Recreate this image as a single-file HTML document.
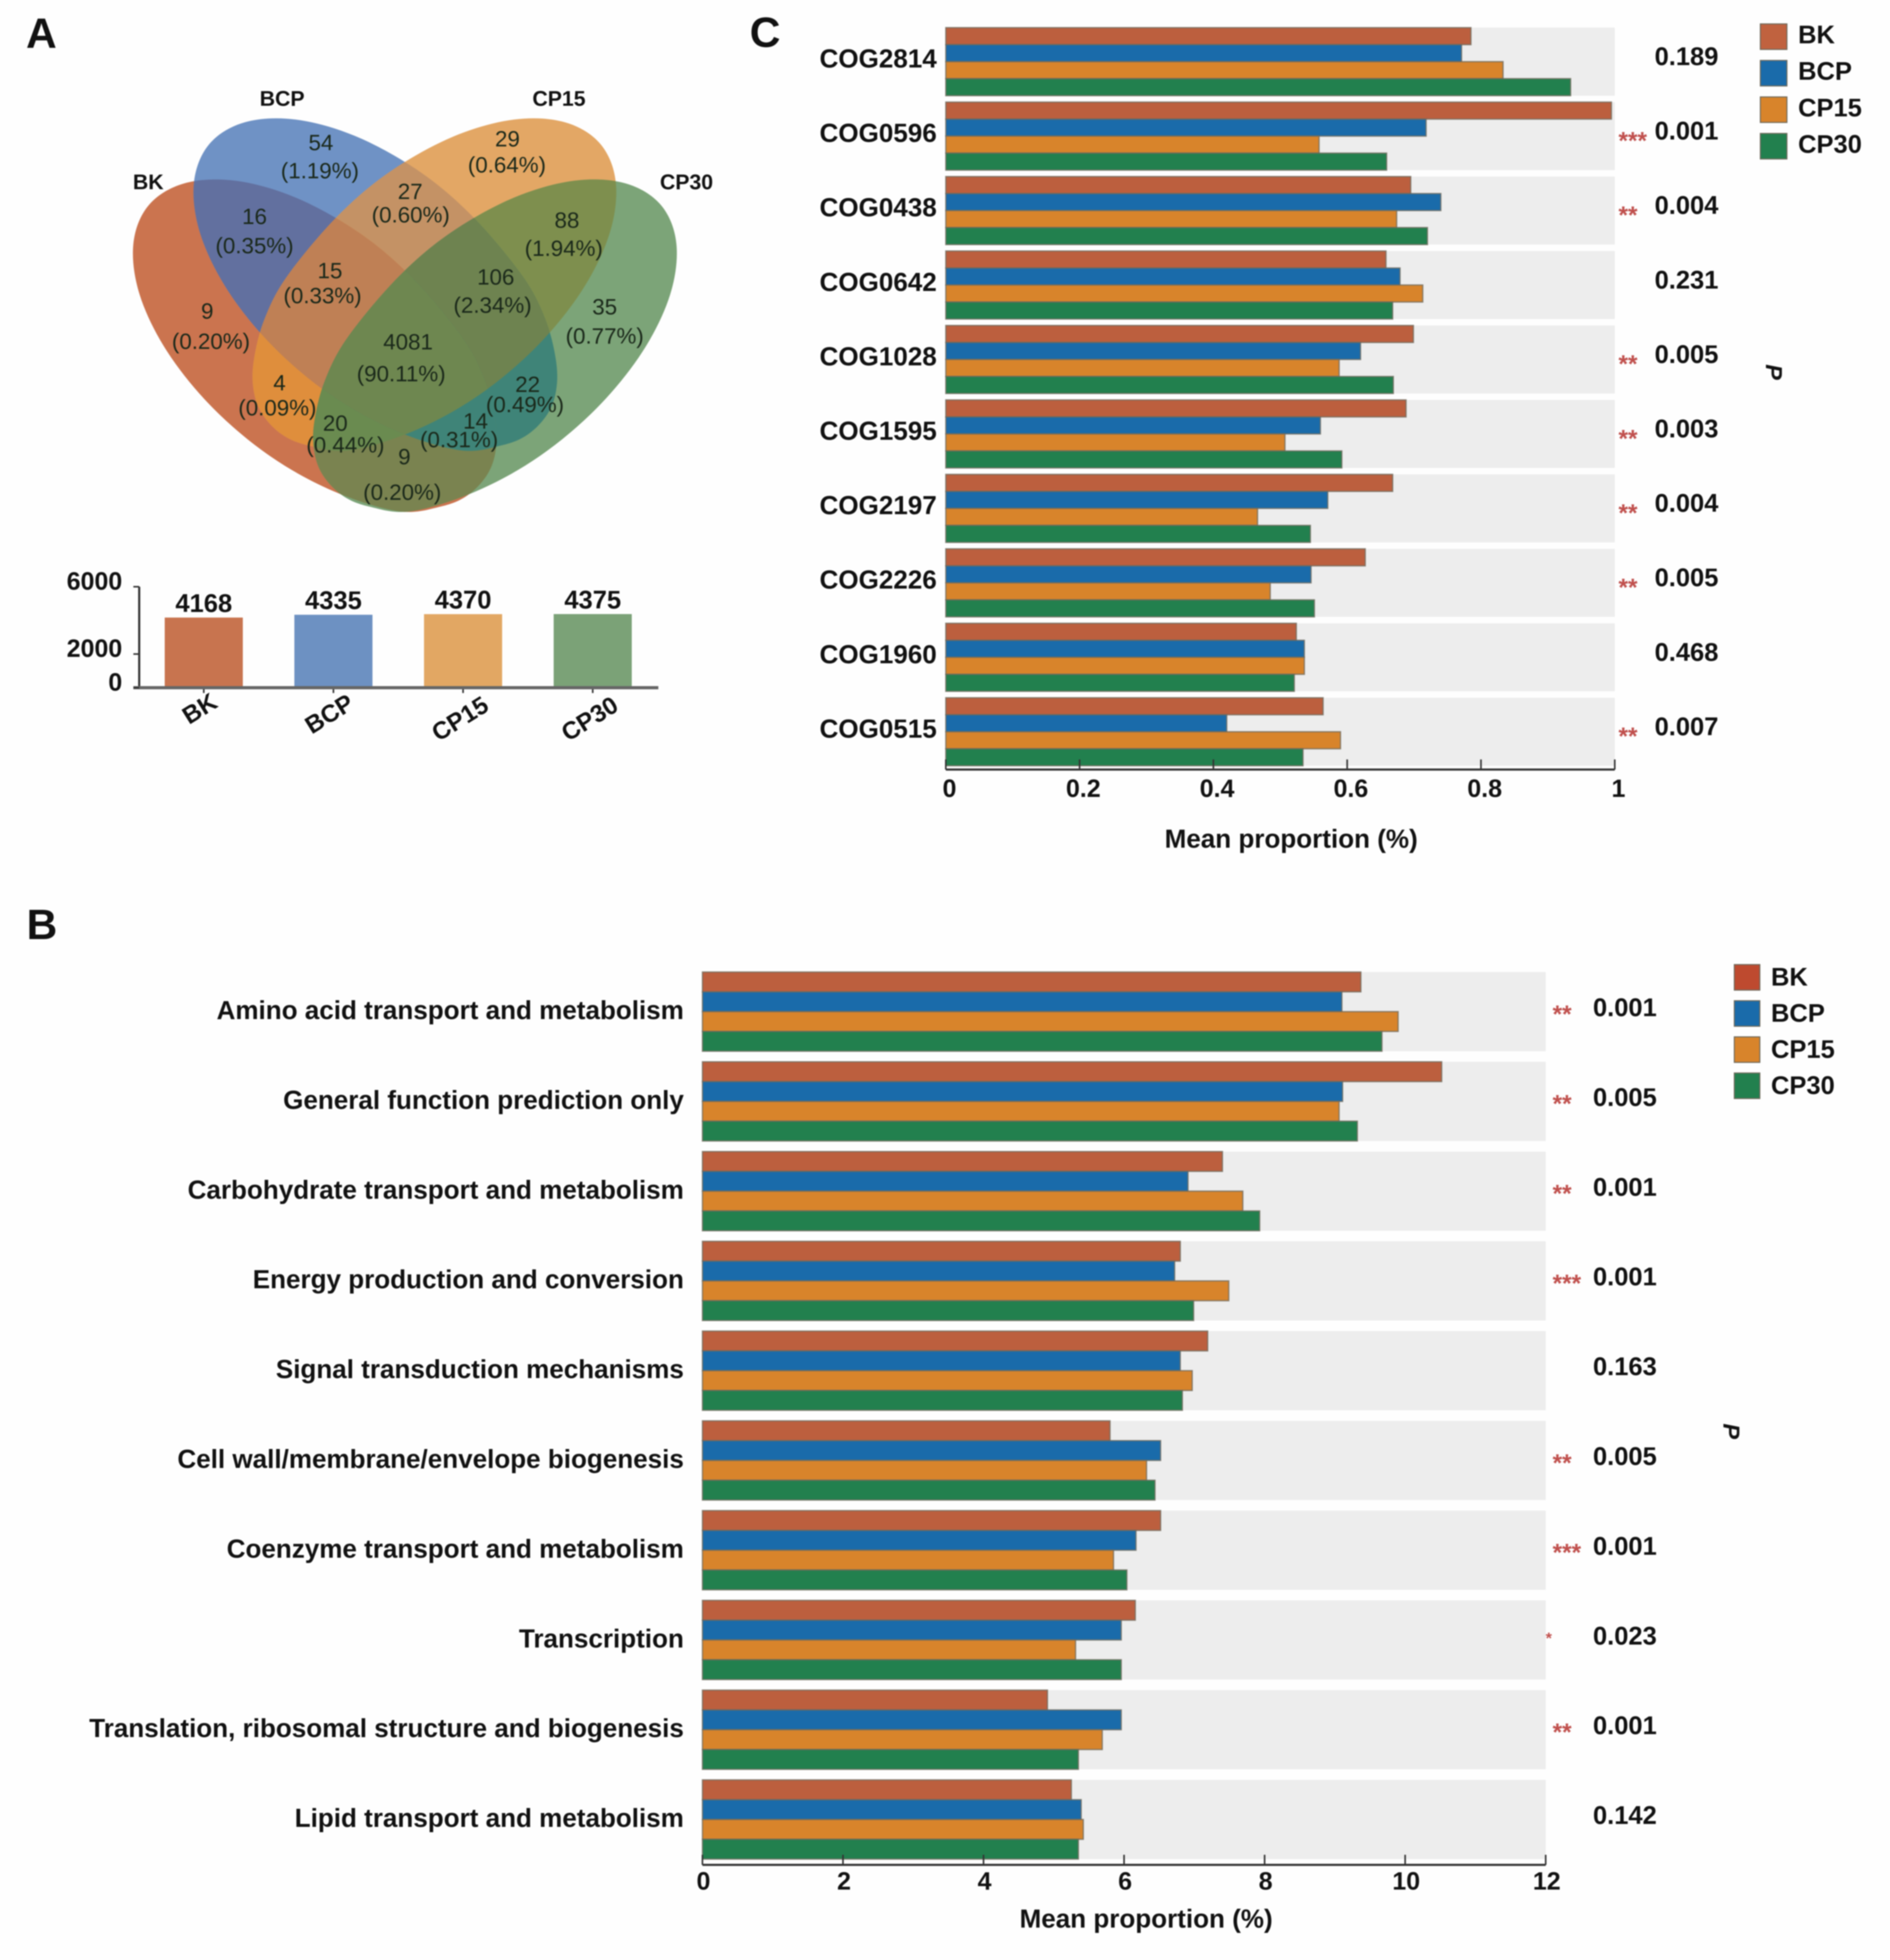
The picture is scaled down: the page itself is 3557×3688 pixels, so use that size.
<!DOCTYPE html>
<html lang="en">
<head>
<meta charset="utf-8">
<title>Panels A, B and C: Venn diagram and COG bar charts</title>
<style>
html,body{margin:0;padding:0;background:#fefefe;}
#figure{display:block;width:3557px;height:3688px;font-family:"Liberation Sans",Arial,sans-serif;filter:blur(1px);}
.vn{font-size:42px;fill:#1a281a;text-anchor:middle;dominant-baseline:central;}
.vh{font-size:40px;font-weight:bold;fill:#111;text-anchor:middle;dominant-baseline:central;}
.pl{font-size:80px;font-weight:bold;fill:#111;}
</style>
</head>
<body>
<svg id="figure" xmlns="http://www.w3.org/2000/svg" width="3557" height="3688" viewBox="0 0 3557 3688">
<defs>
<clipPath id="cBK"><path class="petal"/></clipPath>
<clipPath id="cBCP"><path class="petal" transform="translate(114,-115)"/></clipPath>
<clipPath id="cCP15"><path class="petal" transform="translate(1524,0) scale(-1,1) translate(114,-115)"/></clipPath>
<clipPath id="cCP30"><path class="petal" transform="translate(1524,0) scale(-1,1)"/></clipPath>
</defs>
<rect x="0" y="0" width="3557" height="3688" fill="#fefefe"/>
<text class="pl" x="49" y="90">A</text>
<text class="pl" x="50" y="1767">B</text>
<text class="pl" x="1411" y="88">C</text>

<g>
<g clip-path="url(#cBK)"><rect x="200" y="180" width="1150" height="820" fill="#cb744f"/></g>
<g clip-path="url(#cBCP)"><rect x="200" y="180" width="1150" height="820" fill="#6f92c5"/></g>
<g clip-path="url(#cCP15)"><rect x="200" y="180" width="1150" height="820" fill="#e3a765"/></g>
<g clip-path="url(#cCP30)"><rect x="200" y="180" width="1150" height="820" fill="#7ca478"/></g>
<g clip-path="url(#cBK)"><g clip-path="url(#cBCP)"><rect x="200" y="180" width="1150" height="820" fill="#62709f"/></g></g>
<g clip-path="url(#cBCP)"><g clip-path="url(#cCP15)"><rect x="200" y="180" width="1150" height="820" fill="#c49265"/></g></g>
<g clip-path="url(#cBK)"><g clip-path="url(#cCP15)"><rect x="200" y="180" width="1150" height="820" fill="#df8e3c"/></g></g>
<g clip-path="url(#cCP15)"><g clip-path="url(#cCP30)"><rect x="200" y="180" width="1150" height="820" fill="#7e8f4e"/></g></g>
<g clip-path="url(#cBCP)"><g clip-path="url(#cCP30)"><rect x="200" y="180" width="1150" height="820" fill="#3f8478"/></g></g>
<g clip-path="url(#cBK)"><g clip-path="url(#cCP30)"><rect x="200" y="180" width="1150" height="820" fill="#7a8350"/></g></g>
<g clip-path="url(#cBK)"><g clip-path="url(#cBCP)"><g clip-path="url(#cCP15)"><rect x="200" y="180" width="1150" height="820" fill="#bf8055"/></g></g></g>
<g clip-path="url(#cBCP)"><g clip-path="url(#cCP15)"><g clip-path="url(#cCP30)"><rect x="200" y="180" width="1150" height="820" fill="#6e8350"/></g></g></g>
<g clip-path="url(#cBK)"><g clip-path="url(#cCP15)"><g clip-path="url(#cCP30)"><rect x="200" y="180" width="1150" height="820" fill="#6a8b50"/></g></g></g>
<g clip-path="url(#cBK)"><g clip-path="url(#cBCP)"><g clip-path="url(#cCP30)"><rect x="200" y="180" width="1150" height="820" fill="#3f8478"/></g></g></g>
<g clip-path="url(#cBK)"><g clip-path="url(#cBCP)"><g clip-path="url(#cCP15)"><g clip-path="url(#cCP30)"><rect x="200" y="180" width="1150" height="820" fill="#6e8750"/></g></g></g></g>

<text class="vh" x="531" y="186">BCP</text>
<text class="vh" x="1052" y="186">CP15</text>
<text class="vh" x="279" y="343">BK</text>
<text class="vh" x="1292" y="343">CP30</text>

<text class="vn" x="604" y="268">54</text>
<text class="vn" x="602" y="321">(1.19%)</text>
<text class="vn" x="955" y="261">29</text>
<text class="vn" x="954" y="310">(0.64%)</text>
<text class="vn" x="479" y="407">16</text>
<text class="vn" x="479" y="462">(0.35%)</text>
<text class="vn" x="772" y="360">27</text>
<text class="vn" x="773" y="404">(0.60%)</text>
<text class="vn" x="1067" y="414">88</text>
<text class="vn" x="1061" y="467">(1.94%)</text>
<text class="vn" x="621" y="509">15</text>
<text class="vn" x="607" y="556">(0.33%)</text>
<text class="vn" x="933" y="521">106</text>
<text class="vn" x="927" y="574">(2.34%)</text>
<text class="vn" x="390" y="585">9</text>
<text class="vn" x="397" y="642">(0.20%)</text>
<text class="vn" x="1138" y="577">35</text>
<text class="vn" x="1138" y="632">(0.77%)</text>
<text class="vn" x="768" y="643">4081</text>
<text class="vn" x="755" y="703">(90.11%)</text>
<text class="vn" x="993" y="723">22</text>
<text class="vn" x="988" y="761">(0.49%)</text>
<text class="vn" x="526" y="720">4</text>
<text class="vn" x="522" y="767">(0.09%)</text>
<text class="vn" x="895" y="792">14</text>
<text class="vn" x="864" y="827">(0.31%)</text>
<text class="vn" x="631" y="796">20</text>
<text class="vn" x="650" y="837">(0.44%)</text>
<text class="vn" x="761" y="859">9</text>
<text class="vn" x="757" y="926">(0.20%)</text>
</g>
<g id="chart-totals"></g>
<g id="chart-c"></g>
<g id="chart-b"></g>
</svg>
<script>
// Totals chart (panel A)
const totalGroups = ['BK', 'BCP', 'CP15', 'CP30'];
const totalValues = [4168, 4335, 4370, 4375];
const totalTicks = [0, 2000, 6000];

// Panel C
const cogCategories = ['COG2814','COG0596','COG0438','COG0642','COG1028','COG1595','COG2197','COG2226','COG1960','COG0515'];
const cogBK   = [0.785,0.995,0.695,0.658,0.699,0.688,0.668,0.627,0.524,0.564];
const cogBCP  = [0.771,0.718,0.740,0.679,0.620,0.560,0.571,0.546,0.536,0.420];
const cogCP15 = [0.833,0.558,0.674,0.713,0.588,0.507,0.466,0.485,0.536,0.590];
const cogCP30 = [0.934,0.659,0.720,0.668,0.669,0.592,0.545,0.551,0.521,0.534];
const cogP = ['0.189','0.001','0.004','0.231','0.005','0.003','0.004','0.005','0.468','0.007'];
const cogStars = ['','***','**','','**','**','**','**','','**'];
const cogTicks = [0,0.2,0.4,0.6,0.8,1];

// Panel B
const fnCategories = ['Amino acid transport and metabolism','General function prediction only','Carbohydrate transport and metabolism','Energy production and conversion','Signal transduction mechanisms','Cell wall/membrane/envelope biogenesis','Coenzyme transport and metabolism','Transcription','Translation, ribosomal structure and biogenesis','Lipid transport and metabolism'];
const fnBK   = [9.37,10.52,7.40,6.80,7.19,5.80,6.52,6.16,4.91,5.25];
const fnBCP  = [9.10,9.11,6.91,6.72,6.80,6.52,6.17,5.96,5.96,5.39];
const fnCP15 = [9.90,9.06,7.69,7.49,6.97,6.32,5.85,5.31,5.69,5.42];
const fnCP30 = [9.67,9.32,7.93,6.99,6.83,6.44,6.04,5.96,5.35,5.35];
const fnP = ['0.001','0.005','0.001','0.001','0.163','0.005','0.001','0.023','0.001','0.142'];
const fnStars = ['**','**','**','***','','**','***','*','**',''];
const fnTicks = [0,2,4,6,8,10,12];

const seriesNames = ['BK','BCP','CP15','CP30'];
const seriesColors = ['#bc5f3e','#1a6baa','#d8842b','#22804e'];
const totalColors = ['#c8744f','#6d91c2','#e2a763','#7ba277'];

const NS = 'http://www.w3.org/2000/svg';
function make(tag, parent, props, text) {
  const n = document.createElementNS(NS, tag);
  for (const k in props) n.setAttribute(k, props[k]);
  if (text !== undefined) n.textContent = text;
  parent.appendChild(n);
  return n;
}
const boldFont = 'bold';

/* ---------- Venn petal outline (rounded at the top, tapered at the bottom) ---------- */
(function () {
  const outline = [[443,340],[557,372],[676,438],[775,522],[869,634],[912,715],[932,791],[933,847],[917,893],[880,932],[830,953],[750,962],[627,924],[508,858],[400,767],[315,662],[263,555],[251,459],[280,386],[347,345]];
  const n = outline.length;
  let d = 'M' + outline[0][0] + ' ' + outline[0][1];
  for (let i = 0; i < n; i++) {
    const p0 = outline[(i - 1 + n) % n], p1 = outline[i], p2 = outline[(i + 1) % n], p3 = outline[(i + 2) % n];
    d += 'C' + (p1[0] + (p2[0] - p0[0]) / 6) + ' ' + (p1[1] + (p2[1] - p0[1]) / 6) + ' ' +
         (p2[0] - (p3[0] - p1[0]) / 6) + ' ' + (p2[1] - (p3[1] - p1[1]) / 6) + ' ' + p2[0] + ' ' + p2[1];
  }
  d += 'Z';
  document.querySelectorAll('.petal').forEach(p => p.setAttribute('d', d));
})();

/* ---------- Totals chart ---------- */
(function () {
  const root = document.getElementById('chart-totals');
  const y = v => 1294 - v * 190 / 6000;
  const barX = i => 310 + i * 244;
  const barW = 147;
  const axisY = make('line', root, {x1: 262, x2: 262, y1: y(6000), y2: y(0), stroke: '#333', 'stroke-width': 4});
  
  
  totalValues.forEach((v, i) => {
    const bar = make('rect', root, {x: barX(i), y: y(v), width: barW, height: y(0) - y(v), fill: totalColors[i]});
    
    
    const val = make('text', root, {x: barX(i) + barW / 2, y: y(v) - 26, 'text-anchor': 'middle', 'dominant-baseline': 'central', 'font-size': 48, 'font-weight': boldFont, fill: '#111'}, String(v));
    
    
    const tick = make('line', root, {x1: barX(i) + barW / 2, x2: barX(i) + barW / 2, y1: y(0), y2: y(0) + 10, stroke: '#333', 'stroke-width': 3});
    
    
    const cx = barX(i) + barW / 2 - (i < 2 ? 8 : 6);
    const cy = y(0) + (i === 0 ? 39 : i === 1 ? 49 : 58);
    const lab = make('text', root, {x: cx, y: cy, 'text-anchor': 'middle', 'dominant-baseline': 'central', 'font-size': 46, 'font-weight': boldFont, fill: '#111', transform: 'rotate(-32 ' + cx + ' ' + cy + ')'}, totalGroups[i]);
    
    
  });
  const base = make('line', root, {x1: 251, x2: 1239, y1: y(0), y2: y(0), stroke: '#666', 'stroke-width': 6});
  
  
  totalTicks.forEach(t => {
    const tk = make('line', root, {x1: 251, x2: 262, y1: y(t), y2: y(t), stroke: '#333', 'stroke-width': 3});
    
    
    const tl = make('text', root, {x: 230, y: y(t) - 11, 'text-anchor': 'end', 'dominant-baseline': 'central', 'font-size': 47, 'font-weight': boldFont, fill: '#111'}, String(t));
    
    
  });
})();

/* ---------- Grouped horizontal bars ---------- */
function drawPanel(cfg) {
  const root = document.getElementById(cfg.id);
  const x = v => cfg.x0 + (v - cfg.min) * (cfg.x1 - cfg.x0) / (cfg.max - cfg.min);
  const groupTop = i => cfg.top + i * cfg.pitch;
  const barH = cfg.groupH / 4;
  cfg.categories.forEach((cat, i) => {
    const band = make('rect', root, {x: cfg.x0, y: groupTop(i), width: cfg.x1 - cfg.x0, height: cfg.groupH, fill: '#ededed'});
    
    
    cfg.series.forEach((values, s) => {
      const bar = make('rect', root, {x: cfg.x0, y: groupTop(i) + s * barH, width: x(values[i]) - cfg.x0, height: barH, fill: seriesColors[s], stroke: '#6f6a5c', 'stroke-width': 2.5, 'stroke-opacity': 0.75});
      
      
    });
    const mid = groupTop(i) + cfg.groupH / 2;
    const lab = make('text', root, {x: cfg.labelX, y: mid + cfg.labelDy, 'text-anchor': 'end', 'dominant-baseline': 'central', 'font-size': 49, 'font-weight': boldFont, fill: '#111'}, cat);
    
    
    const p = make('text', root, {x: cfg.pX, y: mid + cfg.pDy, 'text-anchor': 'middle', 'dominant-baseline': 'central', 'font-size': 48, 'font-weight': boldFont, fill: '#111'}, cfg.pvals[i]);
    
    
    const st = cfg.stars[i];
    if (st) {
      const single = st.length === 1;
      const fs = single ? 30 : 46;
      const sx = single ? cfg.starX - 13 : cfg.starX;
      const star = make('text', root, {x: sx, y: mid + cfg.starDy + fs * 0.55 - (single ? 5 : 0), 'font-size': fs, 'font-weight': boldFont, fill: '#c0504d'}, st);
      
      
    }
  });
  const axis = make('line', root, {x1: cfg.x0, x2: cfg.x1, y1: cfg.axisY, y2: cfg.axisY, stroke: '#333', 'stroke-width': 4});
  
  
  cfg.ticks.forEach(t => {
    const tk = make('line', root, {x1: x(t), x2: x(t), y1: cfg.axisY - 19, y2: cfg.axisY, stroke: '#333', 'stroke-width': 3});
    
    
    const tl = make('text', root, {x: x(t) + cfg.tickDx, y: cfg.tickY, 'text-anchor': 'middle', 'dominant-baseline': 'central', 'font-size': 47, 'font-weight': boldFont, fill: '#111'}, String(t));
    
    
  });
  const title = make('text', root, {x: cfg.titleX, y: cfg.titleY, 'text-anchor': 'middle', 'dominant-baseline': 'central', 'font-size': 49, 'font-weight': boldFont, fill: '#111'}, 'Mean proportion (%)');
  
  
  const pt = make('text', root, {x: cfg.pTitleX, y: cfg.pTitleY, 'text-anchor': 'middle', 'dominant-baseline': 'central', 'font-size': 44, 'font-weight': boldFont, 'font-style': 'italic', fill: '#111', transform: 'rotate(90 ' + cfg.pTitleX + ' ' + cfg.pTitleY + ')'}, 'P');
  
  
  seriesNames.forEach((name, s) => {
    const swatchY = cfg.legendY + s * cfg.legendPitch;
    const sw = make('rect', root, {x: cfg.legendX, y: swatchY, width: cfg.legendW, height: 48, fill: (s === 0 ? cfg.legendBK : seriesColors[s]), stroke: '#6f6a5c', 'stroke-width': 2});
    
    
    const lt = make('text', root, {x: cfg.legendX + cfg.legendW + 21, y: swatchY + cfg.legendDy, 'dominant-baseline': 'central', 'font-size': 48, 'font-weight': boldFont, fill: '#111'}, name);
    
    
  });
}

drawPanel({
  id: 'chart-c', categories: cogCategories, series: [cogBK, cogBCP, cogCP15, cogCP30],
  pvals: cogP, stars: cogStars, ticks: cogTicks, min: 0, max: 1,
  x0: 1780, x1: 3039, top: 52, pitch: 140.1, groupH: 128,
  labelX: 1763, labelDy: -5, pX: 3174, pDy: -9, starX: 3046, starDy: -1,
  axisY: 1448, tickDx: 7, tickY: 1483, titleX: 2430, titleY: 1579,
  pTitleX: 3338, pTitleY: 700,
  legendX: 3313, legendY: 45, legendPitch: 68.7, legendW: 50, legendBK: '#c0623f', legendDy: 21
});

drawPanel({
  id: 'chart-b', categories: fnCategories, series: [fnBK, fnBCP, fnCP15, fnCP30],
  pvals: fnP, stars: fnStars, ticks: fnTicks, min: 0, max: 12,
  x0: 1322, x1: 2909, top: 1829, pitch: 168.9, groupH: 149,
  labelX: 1287, labelDy: -2, pX: 3058, pDy: -7, starX: 2922, starDy: -5,
  axisY: 3509, tickDx: 2, tickY: 3539, titleX: 2157, titleY: 3611,
  pTitleX: 3258, pTitleY: 2693,
  legendX: 3264, legendY: 1815, legendPitch: 68, legendW: 48, legendBK: '#be4a2f', legendDy: 24
});
</script>
</body>
</html>
